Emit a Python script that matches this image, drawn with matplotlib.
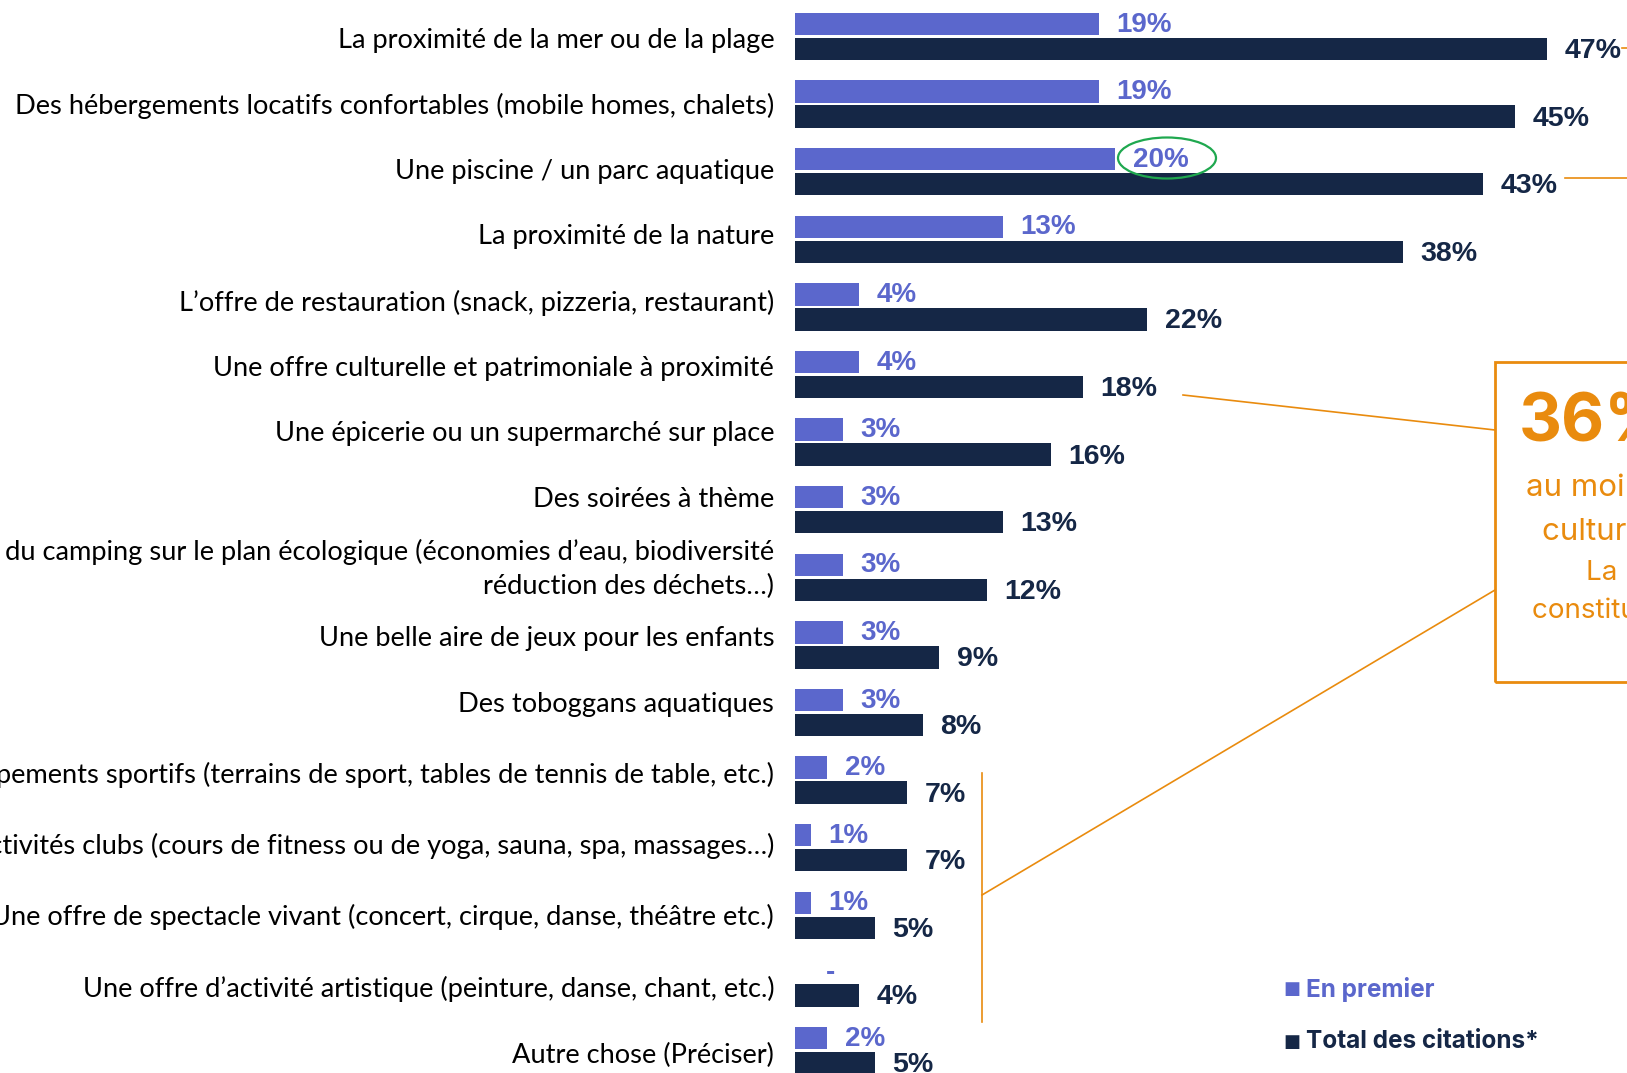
import matplotlib
matplotlib.use("Agg")
import matplotlib.pyplot as plt
from matplotlib.patches import Ellipse, Rectangle
from matplotlib.lines import Line2D

# ---------------- DATA ----------------
categories = [
    "La proximité de la mer ou de la plage",
    "Des hébergements locatifs confortables (mobile homes, chalets)",
    "Une piscine / un parc aquatique",
    "La proximité de la nature",
    "L’offre de restauration (snack, pizzeria, restaurant)",
    "Une offre culturelle et patrimoniale à proximité",
    "Une épicerie ou un supermarché sur place",
    "Des soirées à thème",
    "L’engagement du camping sur le plan écologique (économies d’eau, biodiversité\nréduction des déchets…)",
    "Une belle aire de jeux pour les enfants",
    "Des toboggans aquatiques",
    "Des équipements sportifs (terrains de sport, tables de tennis de table, etc.)",
    "Des activités clubs (cours de fitness ou de yoga, sauna, spa, massages…)",
    "Une offre de spectacle vivant (concert, cirque, danse, théâtre etc.)",
    "Une offre d’activité artistique (peinture, danse, chant, etc.)",
    "Autre chose (Préciser)",
]
en_premier = [19, 19, 20, 13, 4, 4, 3, 3, 3, 3, 3, 2, 1, 1, 0, 2]
total_citations = [47, 45, 43, 38, 22, 18, 16, 13, 12, 9, 8, 7, 7, 5, 4, 5]
legend_labels = ["En premier", "Total des citations*"]
# --------------------------------------

# label nudges (rows), the slide's text boxes don't sit exactly on the bars
label_dy = [0.058, 0.026, -0.008, -0.04, -0.058, -0.09, -0.124, -0.158,
            -0.124, -0.10, -0.118, -0.075, -0.03, 0.028, 0.087, 0.069]

LIGHT = "#5B67CC"
DARK = "#152746"
ORANGE = "#E98B0E"
GREEN = "#1FA84F"

W, H = 1627, 1073
fig = plt.figure(figsize=(W / 100, H / 100), dpi=100)
ax = fig.add_axes([0, 0, 1, 1])

# x: 0% at px 795, 16 px per point ; y: rows 67.6 px apart
ax.set_xlim(-795 / 16, (W - 795) / 16)
ax.set_ylim((H - 36.5) / 67.6, -36.5 / 67.6)
ax.axis("off")

rows = list(range(len(categories)))
bh = 0.33
off = 0.185
ax.barh([r - off for r in rows], en_premier, height=bh, color=LIGHT)
ax.barh([r + off for r in rows], total_citations, height=bh, color=DARK)

pad = 1.1
for r, v1, v2 in zip(rows, en_premier, total_citations):
    if v1:
        ax.text(v1 + pad, r - off + 0.01, f"{v1}%", ha="left", va="center", color=LIGHT,
                fontsize=20, fontweight="bold", family="Liberation Sans")
    else:
        ax.text(pad + 1.1, r - off + 0.04, "-", ha="center", va="center", color=LIGHT,
                fontsize=20, fontweight="bold", family="Liberation Sans")
    ax.text(v2 + pad, r + off + 0.03, f"{v2}%", ha="left", va="center", color=DARK,
            fontsize=20.5, fontweight="bold", family="Liberation Sans")

for r, lab, dy in zip(rows, categories, label_dy):
    ax.text(-1.3, r + dy, lab, ha="right", va="center", color="black",
            fontsize=19.6, family="Lato", linespacing=1.45)

# ---- annotations (figure pixels) ----
def fx(x):
    return x / W

def fy(y):
    return 1 - y / H

def line(x0, y0, x1, y1, lw=1.2):
    fig.add_artist(Line2D([fx(x0), fx(x1)], [fy(y0), fy(y1)], color=ORANGE,
                          lw=lw, transform=fig.transFigure))

# green ellipse around 20%
fig.add_artist(Ellipse((fx(1167), fy(158)), 98 / W, 41 / H, fill=False,
                       edgecolor=GREEN, lw=1.6, transform=fig.transFigure))

line(1565, 178, W, 178)
line(1622, 48, W, 48)
line(1183, 395, 1495, 430)
line(982, 773, 982, 1022)
line(982, 895, 1495, 590)

fig.add_artist(Rectangle((fx(1495), fy(682)), (W + 20 - 1495) / W, (682 - 362) / H,
                         fill=False, edgecolor=ORANGE, lw=2, transform=fig.transFigure))

fig.text(fx(1519), fy(424), "36%", ha="left", va="center", color=ORANGE,
         fontsize=48, fontweight="bold", family="Inter")
box_lines = [
    (1526, 496, "au moins une activité", 22.5),
    (1542, 540, "culturelle ou artistique", 22.5),
    (1586, 580, "La proximité", 20),
    (1532, 618, "constitue un atout", 20),
]
for x, y, t, fs in box_lines:
    fig.text(fx(x), fy(y), t, ha="left", va="baseline", color=ORANGE,
             fontsize=fs, family="Inter")

# legend
for (y, lab, col) in [(989, legend_labels[0], LIGHT), (1042, legend_labels[1], DARK)]:
    fig.text(fx(1283), fy(y), "■", ha="left", va="center", color=col,
             fontsize=13, family="DejaVu Sans")
    fig.text(fx(1306), fy(y), lab, ha="left", va="center", color=col,
             fontsize=17.5, fontweight="bold", family="Inter")

fig.savefig("out.png", dpi=100, facecolor="white")
